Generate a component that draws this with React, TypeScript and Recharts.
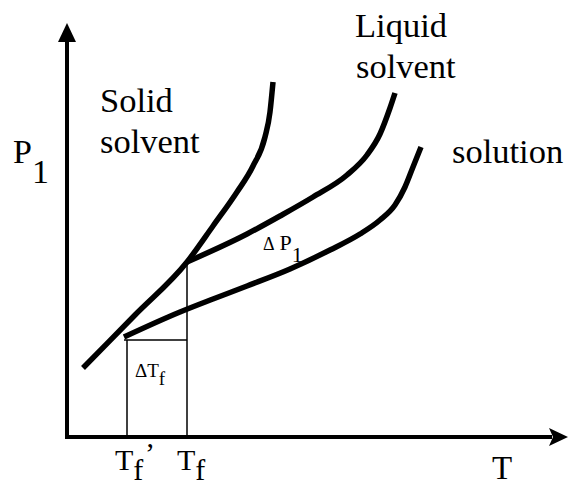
import { LineChart, Line, XAxis, YAxis, ReferenceLine, ReferenceDot } from 'recharts';

// temperature (T) and vapour pressure (P1) readings for each curve
const solidT = [3.2, 13.6, 24, 29.2, 34, 37.2, 39.6, 40.6, 41.2];
const solidP = [17.25, 30.5, 43.75, 52.75, 61.25, 67.75, 75, 81.25, 88.75];

const liquidT = [24, 36, 42.6, 49.2, 56, 60, 62.6, 64.6, 65.6];
const liquidP = [43.75, 50.75, 55.25, 60, 65.5, 70.5, 75.75, 82.25, 86];

const solutionT = [11.4, 22.6, 29.2, 36, 44.6, 52.6, 58.6, 62.6, 65.6, 67.6, 69.2, 70.8];
const solutionP = [25, 31.25, 34.5, 37.75, 42, 46.75, 50.75, 54.25, 58, 62.5, 67.5, 72.5];

// freezing points
const Tf = 24;
const TfPrime = 12;
const PfPrime = 24.25;
const PfTop = 43.75;

const toPoints = (ts: number[], ps: number[]) => ts.map((t, i) => ({ t, p: ps[i] }));

const solid = toPoints(solidT, solidP);
const liquid = toPoints(liquidT, liquidP);
const solution = toPoints(solutionT, solutionP);

const FONT = 'Liberation Serif';

const text = (content: React.ReactNode, size: number) => (p: any) => (
  <text x={p.cx} y={p.cy} style={{ fontFamily: FONT, fontSize: size }} fill="#000">
    {content}
  </text>
);

const lineProps = {
  dataKey: 'p',
  type: 'monotone' as const,
  stroke: '#000',
  strokeWidth: 5.5,
  dot: false,
  activeDot: false,
  isAnimationActive: false,
};

export default function App() {
  return (
    <div style={{ position: 'absolute', left: 0, top: 0, background: '#fff' }}>
      <LineChart width={569} height={486} margin={{ top: 0, right: 0, bottom: 0, left: 0 }}>
        <XAxis type="number" dataKey="t" domain={[-13.4, 100.4]} hide allowDataOverflow />
        <YAxis type="number" domain={[-12.25, 109.25]} hide allowDataOverflow />

        {/* axes */}
        <ReferenceLine segment={[{ x: -0.4, y: 0 }, { x: 97, y: 0 }]} stroke="#000" strokeWidth={4} />
        <ReferenceLine segment={[{ x: 0, y: -0.4 }, { x: 0, y: 99.5 }]} stroke="#000" strokeWidth={4} />
        <ReferenceDot
          x={0}
          y={103.5}
          r={0}
          shape={(p: any) => (
            <polygon
              points={`${p.cx},${p.cy} ${p.cx - 9},${p.cy + 19} ${p.cx + 9},${p.cy + 19}`}
              fill="#000"
            />
          )}
        />
        <ReferenceDot
          x={100.2}
          y={0}
          r={0}
          shape={(p: any) => (
            <polygon
              points={`${p.cx},${p.cy} ${p.cx - 19},${p.cy - 9} ${p.cx - 15},${p.cy} ${p.cx - 19},${p.cy + 9}`}
              fill="#000"
            />
          )}
        />

        {/* freezing point construction lines */}
        <ReferenceLine segment={[{ x: Tf, y: 0 }, { x: Tf, y: PfTop }]} stroke="#000" strokeWidth={1.5} />
        <ReferenceLine segment={[{ x: TfPrime, y: 0 }, { x: TfPrime, y: PfPrime }]} stroke="#000" strokeWidth={1.5} />
        <ReferenceLine segment={[{ x: 11.4, y: PfPrime }, { x: Tf, y: PfPrime }]} stroke="#000" strokeWidth={1.5} />

        <Line data={solid} {...lineProps} />
        <Line data={liquid} {...lineProps} />
        <Line data={solution} {...lineProps} />

        {/* labels */}
        <ReferenceDot x={57.6} y={100} r={0} shape={text('Liquid', 34.5)} />
        <ReferenceDot x={57.8} y={89.75} r={0} shape={text('solvent', 34.5)} />
        <ReferenceDot x={6.6} y={81.25} r={0} shape={text('Solid', 34.5)} />
        <ReferenceDot x={6.6} y={71} r={0} shape={text('solvent', 34.5)} />
        <ReferenceDot x={77} y={68.5} r={0} shape={text('solution', 34.5)} />
        <ReferenceDot
          x={-10.8}
          y={68.5}
          r={0}
          shape={text(
            <>
              P<tspan dy={20}>1</tspan>
            </>,
            34
          )}
        />
        <ReferenceDot x={85} y={-10.5} r={0} shape={text('T', 33)} />
        <ReferenceDot
          x={9.6}
          y={-8.25}
          r={0}
          shape={text(
            <>
              T<tspan dy={10}>f</tspan>
              <tspan dy={-17}>’</tspan>
            </>,
            30
          )}
        />
        <ReferenceDot
          x={22}
          y={-8.25}
          r={0}
          shape={text(
            <>
              T<tspan dy={10}>f</tspan>
            </>,
            30
          )}
        />
        <ReferenceDot
          x={13.6}
          y={15}
          r={0}
          shape={text(
            <>
              ΔT<tspan dy={8}>f</tspan>
            </>,
            19
          )}
        />
        <ReferenceDot
          x={39.2}
          y={46.75}
          r={0}
          shape={(p: any) => (
            <text x={p.cx} y={p.cy} style={{ fontFamily: FONT }} fill="#000">
              <tspan fontSize={18}>Δ</tspan>
              <tspan fontSize={22} dx={5}>P</tspan>
              <tspan fontSize={22} dy={12}>1</tspan>
            </text>
          )}
        />
      </LineChart>
    </div>
  );
}
